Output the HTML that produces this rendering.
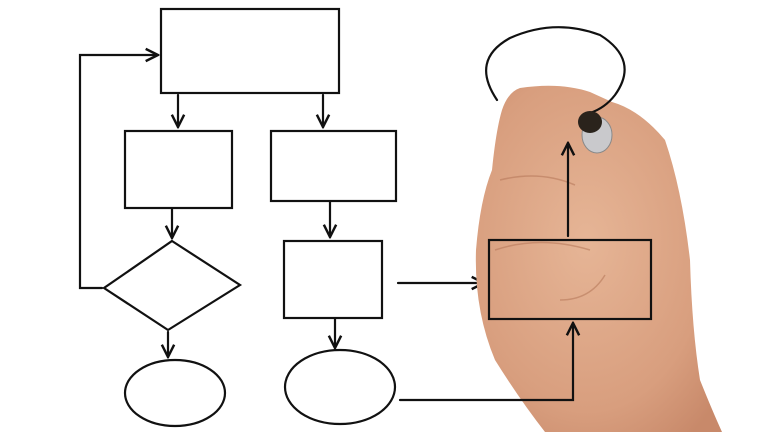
<!DOCTYPE html>
<html><head><style>html,body{margin:0;padding:0;background:#fff;}svg{display:block}</style></head>
<body>
<svg width="768" height="432" viewBox="0 0 768 432" xmlns="http://www.w3.org/2000/svg">
<defs>
<marker id="a" viewBox="0 0 10 10" refX="9" refY="5" markerWidth="7" markerHeight="7" orient="auto"><path d="M1 1 L9 5 L1 9" fill="none" stroke="#111" stroke-width="1.6"/></marker>
<radialGradient id="skin" cx="0.45" cy="0.45" r="0.7"><stop offset="0" stop-color="#e6b596"/><stop offset="0.7" stop-color="#d89e7e"/><stop offset="1" stop-color="#c8896a"/></radialGradient>
</defs>
<g fill="none" stroke="#111" stroke-width="2.2" stroke-linecap="round">
<rect x="161" y="9" width="178" height="84"/>
<path d="M178 95 V127" marker-end="url(#a)"/>
<path d="M323 95 V127" marker-end="url(#a)"/>
<rect x="125" y="131" width="107" height="77"/>
<rect x="271" y="131" width="125" height="70"/>
<path d="M172 209 V238" marker-end="url(#a)"/>
<path d="M172 241 L240 285 L168 330 L104 288 Z"/>
<path d="M102 288 H80 V55 H158" marker-end="url(#a)"/>
<path d="M168 332 V357" marker-end="url(#a)"/>
<ellipse cx="175" cy="393" rx="50" ry="33"/>
<path d="M330 202 V237" marker-end="url(#a)"/>
<rect x="284" y="241" width="98" height="77"/>
<path d="M335 319 V348" marker-end="url(#a)"/>
<ellipse cx="340" cy="387" rx="55" ry="37"/>
<path d="M398 283 H484" marker-end="url(#a)"/>
</g>
<path d="M520 88 Q560 82 590 92 L612 102 Q640 110 665 140 Q682 190 690 260 Q692 330 700 380 Q712 410 722 432 L545 432 Q520 400 495 360 Q474 310 476 250 Q480 200 492 170 Q496 130 502 110 Q508 92 520 88 Z" fill="url(#skin)"/>
<path d="M500 180 Q540 170 575 185 M495 250 Q540 235 590 250 M560 300 Q590 300 605 275" fill="none" stroke="#b87a5c" stroke-width="1.5" opacity="0.6"/>
<g fill="none" stroke="#111" stroke-width="2.2" stroke-linecap="round">
<path d="M497 100 Q470 60 510 38 Q555 18 600 35 Q640 60 615 95 Q605 108 590 113"/>
<rect x="489" y="240" width="162" height="79"/>
<path d="M400 400 H573 V323" marker-end="url(#a)"/>
<path d="M568 236 V143" marker-end="url(#a)"/>
</g>
<ellipse cx="597" cy="135" rx="15" ry="18" fill="#c9c9cc" stroke="#888" stroke-width="1"/>
<ellipse cx="590" cy="122" rx="12" ry="11" fill="#2a231c"/>
</svg>
</body></html>
